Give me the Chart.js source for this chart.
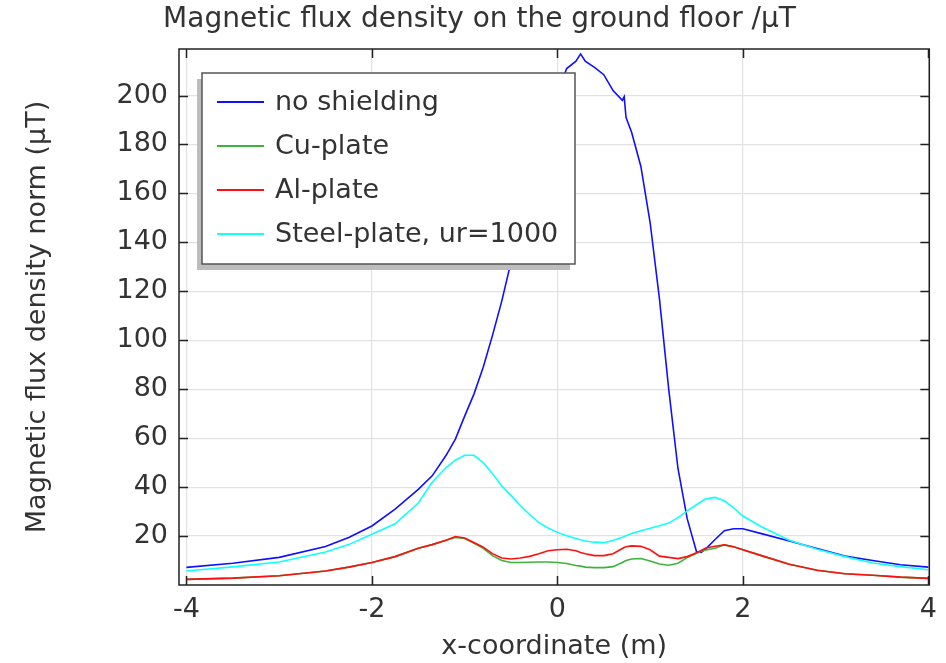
<!DOCTYPE html>
<html><head><meta charset="utf-8">
<script src="https://cdn.jsdelivr.net/npm/chart.js@4/dist/chart.umd.min.js"></script>
<style>html,body{margin:0;padding:0;background:#fff}#wrap{width:946px;height:663px}</style>
</head><body><div id="wrap"><canvas id="c" width="946" height="663"></canvas></div>
<script>
// x-coordinate (m)
const xCoord = [-4, -3.5, -3, -2.5, -2.25, -2, -1.75, -1.5, -1.35, -1.2,
  -1.1, -1.0, -0.9, -0.8, -0.7, -0.6, -0.5, -0.4, -0.3, -0.2,
  -0.1, 0, 0.1, 0.2, 0.25, 0.3, 0.4, 0.5, 0.6, 0.7,
  0.72, 0.74, 0.8, 0.9, 1.0, 1.1, 1.2, 1.3, 1.4, 1.5,
  1.55, 1.6, 1.7, 1.8, 1.9, 2.0, 2.2, 2.5, 2.8, 3.1,
  3.4, 3.7, 4.0];
// Magnetic flux density norm (µT)
const noShielding = [7.2, 8.9, 11.3, 15.7, 19.4, 24.1, 31, 39.1, 44.6, 53,
  59.6, 69, 78, 89, 102, 116, 132, 150, 165, 178,
  190, 201, 211, 214, 217, 214, 211.5, 208.5, 202, 198,
  199.5, 191, 185, 171, 148, 117, 80, 47.6, 27, 13.6,
  13.3, 14.8, 18.6, 22.2, 23, 23, 21, 18, 14.9, 11.8,
  10, 8.3, 7.3];
const cuPlate = [2.3, 2.8, 3.8, 5.7, 7.3, 9.2, 11.6, 15, 16.5, 18.3,
  19.4, 19, 17, 15, 12, 10, 9.2, 9.2, 9.3, 9.4,
  9.4, 9.2, 8.8, 8.0, 7.7, 7.3, 7.1, 7.1, 7.5, 9.2,
  9.6, 10, 10.6, 10.8, 9.8, 8.6, 8.1, 8.9, 11.2, 13,
  13.8, 14.3, 15.0, 16.4, 15.6, 14.4, 12, 8.5, 6, 4.6,
  4.0, 3.2, 2.7];
const alPlate = [2.3, 2.8, 3.8, 5.7, 7.3, 9.2, 11.6, 15, 16.5, 18.3,
  19.8, 19.2, 17.4, 15.5, 12.8, 11, 10.6, 11, 11.7, 12.8,
  14, 14.4, 14.6, 14, 13.3, 12.8, 12, 12, 12.8, 14.9,
  15.3, 15.6, 16, 15.8, 14.4, 11.8, 11.3, 10.8, 11.6, 13.2,
  14.1, 15.1, 15.8, 16.4, 15.6, 14.4, 12, 8.5, 6, 4.6,
  4.0, 3.2, 2.7];
const steelPlate = [5.7, 7.4, 9.4, 13.5, 16.5, 20.7, 25, 33.5, 42, 48,
  51, 53, 53, 50, 45.5, 40.5, 36.5, 32.5, 28.8, 25.5,
  23.3, 21.5, 20.1, 19, 18.5, 18, 17.5, 17.3, 18.2, 19.5,
  19.8, 20.1, 21, 22.2, 23.2, 24.2, 25.3, 27.5, 30.3, 32.8,
  34, 35.2, 35.8, 34.4, 31.5, 28.2, 23.8, 18.3, 14.6, 11.6,
  9.0, 7.5, 6.2];

const seriesLabels = ['no shielding', 'Cu-plate', 'Al-plate', 'Steel-plate, ur=1000'];
const seriesData = [noShielding, cuPlate, alPlate, steelPlate];
const seriesColors = ['#1010ff', '#3cb43c', '#ff1010', '#10ffff'];

const xTicks = [-4, -2, 0, 2, 4];
const yTicks = [20, 40, 60, 80, 100, 120, 140, 160, 180, 200];

const FONT = "'DejaVu Sans', sans-serif";
const TXT = '#333333';
Chart.defaults.font.family = FONT;
Chart.defaults.color = TXT;

function pts(arr) { return xCoord.map((x, i) => ({ x: x, y: arr[i] })); }

const frameAndLegend = {
  id: 'frameAndLegend',
  beforeDraw(chart) {
    const ctx = chart.ctx;
    ctx.save();
    ctx.fillStyle = '#ffffff';
    ctx.fillRect(0, 0, chart.width, chart.height);
    ctx.restore();
  },
  afterDraw(chart) {
    const ctx = chart.ctx;
    const a = chart.chartArea;
    const xs = chart.scales.x, ys = chart.scales.y;
    ctx.save();
    ctx.strokeStyle = '#222';
    ctx.lineWidth = 1.5;
    const TL = 9;
    ctx.beginPath();
    xTicks.forEach(v => {
      const p = Math.round(xs.getPixelForValue(v)) + 0.5;
      ctx.moveTo(p, a.bottom); ctx.lineTo(p, a.bottom - TL);
      ctx.moveTo(p, a.top); ctx.lineTo(p, a.top + TL);
    });
    yTicks.forEach(v => {
      const p = Math.round(ys.getPixelForValue(v)) + 0.5;
      ctx.moveTo(a.left, p); ctx.lineTo(a.left + TL, p);
      ctx.moveTo(a.right, p); ctx.lineTo(a.right - TL, p);
    });
    ctx.stroke();
    ctx.strokeRect(a.left, a.top, a.right - a.left, a.bottom - a.top);

    // legend box
    const L = a.left + 23, T = a.top + 24, W = 373, H = 191;
    ctx.fillStyle = '#bdbdbd';
    ctx.fillRect(L - 5, T + 6, W, H);
    ctx.fillStyle = '#ffffff';
    ctx.fillRect(L, T, W, H);
    ctx.strokeStyle = '#555';
    ctx.lineWidth = 1.5;
    ctx.strokeRect(L, T, W, H);
    ctx.font = '27px ' + FONT;
    ctx.textBaseline = 'middle';
    ctx.textAlign = 'left';
    chart.data.datasets.forEach((ds, i) => {
      const cy = T + 29 + i * 44;
      ctx.strokeStyle = ds.borderColor;
      ctx.lineWidth = 2;
      ctx.beginPath();
      ctx.moveTo(L + 15, cy); ctx.lineTo(L + 62, cy);
      ctx.stroke();
      ctx.fillStyle = TXT;
      ctx.fillText(ds.label, L + 73, cy + 1);
    });
    ctx.restore();
  }
};

new Chart(document.getElementById('c').getContext('2d'), {
  type: 'line',
  data: {
    datasets: seriesLabels.map((lab, i) => ({
      label: lab,
      data: pts(seriesData[i]),
      borderColor: seriesColors[i],
      backgroundColor: seriesColors[i],
      borderWidth: 1.6,
      pointRadius: 0,
      tension: 0,
      fill: false,
      order: 4 - i
    }))
  },
  options: {
    responsive: false,
    animation: false,
    devicePixelRatio: 1,
    layout: { padding: { left: 26, right: 13, top: 0, bottom: 0 } },
    plugins: {
      legend: { display: false },
      tooltip: { enabled: false },
      title: {
        display: true,
        text: 'Magnetic flux density on the ground floor /µT',
        color: TXT,
        font: { size: 28, weight: 'normal', family: FONT },
        padding: { top: 3, bottom: 12.4 }
      }
    },
    scales: {
      x: {
        type: 'linear', min: -4.08, max: 4.01,
        afterBuildTicks: s => { s.ticks = xTicks.map(v => ({ value: v })); },
        afterFit: s => { s.height = 78; },
        grid: { color: '#e2e2e2', drawTicks: false, lineWidth: 1.2 },
        border: { display: false },
        ticks: { padding: 9, color: TXT, font: { size: 27 }, maxRotation: 0 },
        title: { display: true, text: 'x-coordinate (m)', color: TXT, font: { size: 27 }, padding: { top: 2, bottom: 0 } }
      },
      y: {
        type: 'linear', min: 0, max: 219,
        afterBuildTicks: s => { s.ticks = yTicks.map(v => ({ value: v })); },
        afterFit: s => { s.width = 153; },
        grid: { color: '#e2e2e2', drawTicks: false, lineWidth: 1.2 },
        border: { display: false },
        ticks: { padding: 11, color: TXT, font: { size: 27 } },
        title: { display: true, text: 'Magnetic flux density norm (µT)', color: TXT, font: { size: 27 }, padding: { top: -4, bottom: 0 } }
      }
    }
  },
  plugins: [frameAndLegend]
});
</script></body></html>
